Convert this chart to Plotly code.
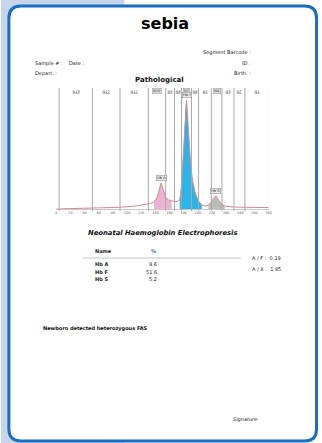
import plotly.graph_objects as go

# ---- electrophoresis trace (migration position vs. absorbance) ----
migration = [0, 30, 60, 89, 112.6, 125, 133.5, 138, 142, 145, 148, 150, 152.5, 155, 159, 163, 167,
             171, 174.4, 176.5, 178.6, 181, 183, 184, 185.3, 187, 189.8, 192.6, 196.7, 201, 205.5,
             210.3, 214.9, 219, 222.5, 225.6, 228.8, 233, 238, 250, 270, 300]
absorbance = [0, 0.5, 1, 1.7, 3, 4.2, 5.7, 7, 11, 18, 26, 22, 15, 11, 9, 8, 7.5,
              7.5, 9, 20, 45, 85, 105, 109, 95, 72, 45, 28, 15, 8, 4,
              3, 4, 7, 11, 13, 10, 5, 3, 2, 1.6, 1.5]

# ---- migration zones ----
zone_edges = [4, 51, 90, 130, 154.5, 167, 177, 191, 201, 219, 234, 251, 266.5, 301]
zone_names = ["N13", "N12", "N11", "N10", "N9", "N8", "N7", "N6", "N5", "N4", "N3", "N2", "N1"]
zone_flagged = ["N10", "N7", "N4"]

# ---- quantified fractions ----
fractions = ["Hb A", "Hb F", "Hb S"]
percents = [9.6, 51.6, 5.2]
fraction_lo = [138, 174.4, 211]
fraction_hi = [165, 206, 238]
fraction_colors = ["#eab3d4", "#2ab4e8", "#bdbdbd"]

ratio_names = ["A / F", "A / X"]
ratio_values = [0.19, 1.85]

x_ticks = list(range(0, 301, 20))

W, H = 322, 443


def px(x):
    return x / W


def py(y):
    return 1 - y / H


FONT = "DejaVu Sans"
fig = go.Figure()

# filled fractions
for name, lo, hi, col in zip(fractions, fraction_lo, fraction_hi, fraction_colors):
    xs = [m for m in migration if lo <= m <= hi]
    ys = [a for m, a in zip(migration, absorbance) if lo <= m <= hi]
    fig.add_trace(go.Scatter(x=xs, y=ys, mode="lines", fill="tozeroy", fillcolor=col,
                             line=dict(width=0, color=col), hoverinfo="skip", showlegend=False))

# full trace
fig.add_trace(go.Scatter(x=migration, y=absorbance, mode="lines",
                         line=dict(color="#d98a8f", width=1), showlegend=False))

shapes = []
# page background + card
shapes.append(dict(type="rect", xref="paper", yref="paper", x0=0, x1=px(125), y0=0, y1=1,
                   fillcolor="#c6d5ec", line_width=0, layer="below"))
x0, x1, y0, y1 = px(8), px(319.5), py(441), py(6)
rx, ry = 12 / W, 12 / H
path = (f"M {x0+rx},{y1} L {x1-rx},{y1} Q {x1},{y1} {x1},{y1-ry} L {x1},{y0+ry} "
        f"Q {x1},{y0} {x1-rx},{y0} L {x0+rx},{y0} Q {x0},{y0} {x0},{y0+ry} "
        f"L {x0},{y1-ry} Q {x0},{y1} {x0+rx},{y1} Z")
shapes.append(dict(type="path", xref="paper", yref="paper", path=path,
                   fillcolor="white", line=dict(color="#1a6ec4", width=3), layer="below"))

# zone boundaries
for e in zone_edges:
    shapes.append(dict(type="line", xref="x", yref="paper", x0=e, x1=e,
                       y0=py(211), y1=py(88), line=dict(color="#a9a9a9", width=1)))

# table rule
shapes.append(dict(type="line", xref="paper", yref="paper", x0=px(83), x1=px(243),
                   y0=py(258), y1=py(258), line=dict(color="#c4c4c4", width=1)))

ann = []


def text(x, y, s, size=5, anchor="left", color="#222", bold=False, italic=False, family=FONT):
    if bold:
        s = f"<b>{s}</b>"
    if italic:
        s = f"<i>{s}</i>"
    ann.append(dict(x=px(x), y=py(y), xref="paper", yref="paper", text=s, showarrow=False,
                    xanchor=anchor, yanchor="middle", font=dict(size=size, color=color, family=family)))


text(166, 23.5, "sebia", size=16, anchor="center", color="#000", bold=True)
text(255, 52, "Segment Barcode :", anchor="right")
text(32, 63, "Sample # :")
text(67, 63, "Date :")
text(255, 63, "ID :", anchor="right")
text(32, 73.5, "Depart. :")
text(255, 73, "Birth. :", anchor="right")
text(160, 79.5, "Pathological", size=7, anchor="center", color="#111", bold=True)

text(163.5, 233, "Neonatal Haemoglobin Electrophoresis", size=6.8, anchor="center",
     color="#111", bold=True, italic=True)
text(93, 251, "Name", bold=True)
text(154, 251, "%", anchor="center", color="#3a5cc4", bold=True)
for i, (n, p) in enumerate(zip(fractions, percents)):
    yy = [264, 271.5, 278.5][i]
    text(93, yy, n, bold=True)
    text(160, yy, f"{p:.1f}", anchor="right")
for i, (n, v) in enumerate(zip(ratio_names, ratio_values)):
    text(252, [257.5, 268.5][i], f"{n} :  {v:.2f}", size=5)

text(40, 328, "Newborn detected heterozygous FAS", bold=True, color="#111")
text(233, 419, "Signature", italic=True)

# zone names above the trace
for i, name in enumerate(zone_names):
    cx = (zone_edges[i] + zone_edges[i + 1]) / 2
    flagged = name in zone_flagged
    ann.append(dict(x=cx, y=py(91), xref="x", yref="paper", text=name, showarrow=False,
                    xanchor="center", yanchor="middle",
                    font=dict(size=3.6, color="#444", family=FONT,
                              lineposition="none" if flagged else "under"),
                    bgcolor="#dcdcdc" if flagged else None,
                    bordercolor="#9a9a9a" if flagged else None, borderwidth=0.5 if flagged else 0,
                    borderpad=0.5))

# fraction labels at peak maxima
for name, lo, hi in zip(fractions, fraction_lo, fraction_hi):
    pts = [(a, m) for m, a in zip(migration, absorbance) if lo <= m <= hi]
    a, m = max(pts)
    ann.append(dict(x=m, y=a + 1.5, xref="x", yref="y", text=name, showarrow=False,
                    xanchor="center", yanchor="bottom",
                    font=dict(size=3.6, color="#333", family=FONT),
                    bgcolor="#e6e6e6", bordercolor="#8c8c8c", borderwidth=0.5, borderpad=0.5))

fig.update_layout(
    width=W, height=H, margin=dict(l=0, r=0, t=0, b=0),
    paper_bgcolor="white", plot_bgcolor="rgba(0,0,0,0)",
    shapes=shapes, annotations=ann, showlegend=False,
    xaxis=dict(domain=[px(56), px(271)], range=[0, 300], tickvals=x_ticks,
               ticktext=[str(t) for t in x_ticks], tickfont=dict(size=3.4, color="#555", family=FONT),
               showgrid=False, zeroline=False, showline=True, linecolor="#c9c9c9", linewidth=1,
               ticks="", fixedrange=True),
    yaxis=dict(domain=[py(209), py(88)], range=[0, 121], visible=False, fixedrange=True),
)

fig.write_html("out.html")
